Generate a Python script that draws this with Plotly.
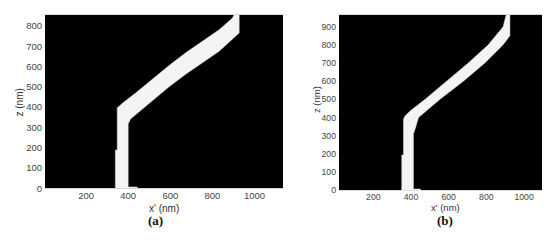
import plotly.graph_objects as go

# Panel (a): band outline (x' in nm, z in nm), traced along upper/left edge then back along lower/right edge
a_x = [339, 339, 348, 348, 358, 375, 435, 514, 594, 673, 752, 832, 895, 903,
       927, 927, 832, 752, 673, 594, 514, 475, 435, 411, 400, 400, 443, 443]
a_z = [0, 188, 188, 397, 405, 421, 469, 538, 605, 668, 726, 782, 839, 855,
       855, 766, 676, 620, 562, 500, 432, 396, 362, 341, 317, 6, 6, 0]

# Panel (b)
b_x = [351, 351, 360, 360, 369, 400, 475, 589, 704, 810, 889, 905,
       925, 925, 889, 792, 678, 554, 440, 422, 413, 413, 450, 450]
b_z = [0, 193, 193, 391, 409, 440, 500, 600, 700, 800, 900, 965,
       965, 850, 800, 700, 600, 500, 400, 337, 310, 6, 6, 0]

x_ticks = [200, 400, 600, 800, 1000]
a_yticks = [0, 100, 200, 300, 400, 500, 600, 700, 800]
b_yticks = [0, 100, 200, 300, 400, 500, 600, 700, 800, 900]

W, H = 550, 241
fig = go.Figure()
fig.add_trace(go.Scatter(x=a_x, y=a_z, fill="toself", fillcolor="#f4f4f4",
                         mode="lines", line=dict(color="#dddddd", width=0.5),
                         xaxis="x", yaxis="y", showlegend=False, hoverinfo="skip"))
fig.add_trace(go.Scatter(x=b_x, y=b_z, fill="toself", fillcolor="#f4f4f4",
                         mode="lines", line=dict(color="#dddddd", width=0.5),
                         xaxis="x2", yaxis="y2", showlegend=False, hoverinfo="skip"))

fam = "Liberation Sans, Arial, sans-serif"
tick_a = dict(family=fam, size=9.5, color="#444444")
tick_b = dict(family=fam, size=8.7, color="#444444")
ax_common = dict(showgrid=False, zeroline=False, ticks="", ticklen=0, showline=False)

def px(xp):
    return xp / W

def py(yp):
    return 1 - yp / H

fig.update_layout(
    width=W, height=H,
    margin=dict(l=0, r=0, t=0, b=0),
    paper_bgcolor="white",
    plot_bgcolor="black",
    xaxis=dict(domain=[px(37), px(275)], range=[5, 1135], tickvals=x_ticks, anchor="y",
               tickfont=tick_a, ticklabelstandoff=0, **ax_common),
    yaxis=dict(domain=[py(184), py(7)], range=[0, 855], tickvals=a_yticks, anchor="x",
               tickfont=tick_a, ticklabelstandoff=2, **ax_common),
    xaxis2=dict(domain=[px(331), px(543)], range=[18, 1143], tickvals=x_ticks, anchor="y2",
                tickfont=tick_b, ticklabelstandoff=0, **ax_common),
    yaxis2=dict(domain=[py(186), py(7)], range=[0, 965], tickvals=b_yticks, anchor="x2",
                tickfont=tick_b, ticklabelstandoff=2, **ax_common),
)

lab_font = dict(family=fam, size=10, color="#333333")
panel_font = dict(family="Liberation Serif, Times New Roman, serif", size=13, color="#111111")
annots = [
    dict(text="x' (nm)", x=px(156), y=py(205), font=lab_font),
    dict(text="x' (nm)", x=px(437), y=py(204), font=dict(family=fam, size=9.5, color="#333333")),
    dict(text="z (nm)", x=px(11.5), y=py(97), font=lab_font, textangle=-90),
    dict(text="z (nm)", x=px(308), y=py(94), font=dict(family=fam, size=9.5, color="#333333"), textangle=-90),
    dict(text="<b>(a)</b>", x=px(147), y=py(217), font=panel_font),
    dict(text="<b>(b)</b>", x=px(437), y=py(217), font=panel_font),
]
for a in annots:
    fig.add_annotation(xref="paper", yref="paper", showarrow=False,
                       xanchor="center", yanchor="middle", **a)

fig.write_html("out.html")
